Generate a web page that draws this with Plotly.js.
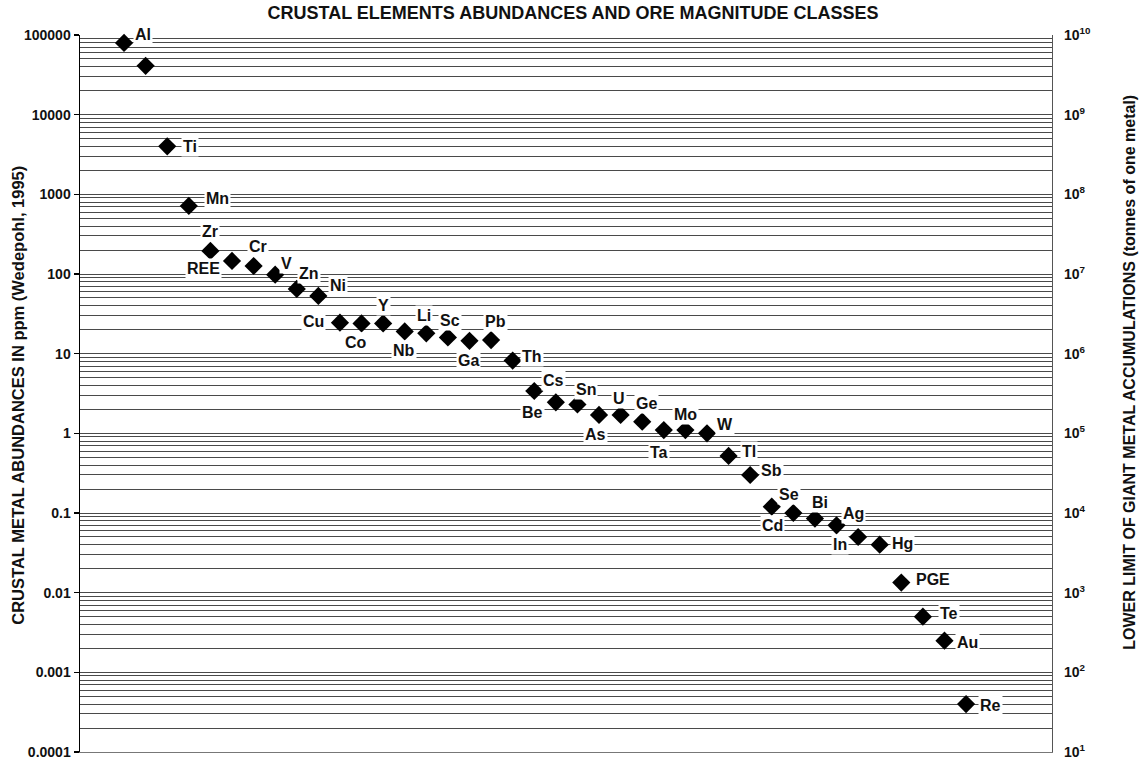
<!DOCTYPE html>
<html>
<head>
<meta charset="utf-8">
<script src="https://cdn.plot.ly/plotly-3.0.1.min.js"></script>
<style>html,body{margin:0;padding:0;background:#fff;}#chart{width:1146px;height:760px;}</style>
</head>
<body>
<div id="chart"></div>
<script>
// ---- data ----
const elements = ["Al","Fe","Ti","Mn","Zr","REE","Cr","V","Zn","Ni","Cu","Co","Y","Nb","Li","Sc","Ga","Pb","Th","Cs","Be","Sn","As","U","Ge","Ta","Mo","W","Tl","Sb","Se","Cd","Bi","Ag","In","Hg","PGE","Te","Au","Re"];
const abundancePpm = [79600,41000,4010,716,195,146,126,98,65,53,24.5,24,24,19,18,16,14.5,14.8,8.2,3.4,2.45,2.3,1.7,1.7,1.4,1.1,1.1,1.0,0.52,0.3,0.12,0.1,0.085,0.07,0.05,0.04,0.0134,0.005,0.0025,0.0004];
const pointLabels = ["Al","","Ti","Mn","Zr","REE","Cr","V","Zn","Ni","Cu","Co","Y","Nb","Li","Sc","Ga","Pb","Th","Cs","Be","Sn","As","U","Ge","Ta","Mo","W","Tl","Sb","Se","Cd","Bi","Ag","In","Hg","PGE","Te","Au","Re"];
const leftTickVals = [0.0001,0.001,0.01,0.1,1,10,100,1000,10000,100000];
const leftTickText = ["0.0001","0.001","0.01","0.1","1","10","100","1000","10000","100000"];
const rightTickVals = [1e1,1e2,1e3,1e4,1e5,1e6,1e7,1e8,1e9,1e10];
const rightTickText = ["10<sup>1</sup>","10<sup>2</sup>","10<sup>3</sup>","10<sup>4</sup>","10<sup>5</sup>","10<sup>6</sup>","10<sup>7</sup>","10<sup>8</sup>","10<sup>9</sup>","10<sup>10</sup>"];

// ---- label placement (pixel offsets from each marker) ----
const labelDx = [19,0,23,29,0,-29,4,11,12,20,-26,-6,0,-1,-2,2,-1,4,19,19,-23,9,-4,-2,4,-5,0,18,20,21,17,-21,5,17,-18,23,32,26,23,24];
const labelDy = [-8,0,0,-7,-19,8,-20,-11,-15,-10,-1,19,-18,19,-18,-17,20,-19,-4,-10,10,-15,20,-16,-18,22,-16,-9,-4,-4,-12,12,-16,-12,8,-1,-3,-3,2,1];

const FONT = "Liberation Sans, Arial, Helvetica, sans-serif";

const annotations = [];
elements.forEach((el, i) => {
  if (!pointLabels[i]) return;
  annotations.push({
    x: el, y: Math.log10(abundancePpm[i]), xref: 'x', yref: 'y',
    text: pointLabels[i], showarrow: false,
    xshift: labelDx[i], yshift: -labelDy[i],
    font: {family: FONT, size: 16, color: '#111', weight: 'bold'},
    bgcolor: '#ffffff', borderpad: 1
  });
});
annotations.push({
  xref: 'paper', yref: 'paper', x: -0.064, y: 0.498, xanchor: 'center', yanchor: 'middle',
  text: 'CRUSTAL METAL ABUNDANCES IN ppm (Wedepohl, 1995)', showarrow: false, textangle: -90,
  font: {family: FONT, size: 16.5, color: '#111', weight: 'bold'}
});
annotations.push({
  xref: 'paper', yref: 'paper', x: 1.08, y: 0.53, xanchor: 'center', yanchor: 'middle',
  text: 'LOWER LIMIT OF GIANT METAL ACCUMULATIONS (tonnes of one metal)', showarrow: false, textangle: -90,
  font: {family: FONT, size: 16, color: '#111', weight: 'bold'}
});

const trace = {
  type: 'scatter', mode: 'markers', x: elements, y: abundancePpm,
  marker: {symbol: 'diamond', size: 14, color: '#000'},
  hoverinfo: 'x+y', cliponaxis: false
};

const layout = {
  width: 1146, height: 760,
  margin: {l: 80, r: 94, t: 35, b: 8},
  paper_bgcolor: '#fff', plot_bgcolor: '#fff',
  showlegend: false,
  title: {text: 'CRUSTAL ELEMENTS ABUNDANCES AND ORE MAGNITUDE CLASSES',
          x: 0.5, xref: 'container', y: 0.983, yref: 'container', yanchor: 'middle',
          font: {family: FONT, size: 18, color: '#111', weight: 'bold'}},
  xaxis: {type: 'category', range: [-2.04, 42.98], showticklabels: false, ticks: '',
          showgrid: false, zeroline: false, showline: true, linecolor: '#777', linewidth: 1},
  yaxis: {type: 'log', range: [-4, 5], tickvals: leftTickVals, ticktext: leftTickText,
          ticks: 'outside', ticklen: 5, tickcolor: '#000', tickwidth: 1.5,
          showline: true, linecolor: '#000', linewidth: 1.5,
          showgrid: true, gridcolor: '#4a4a4a', gridwidth: 1,
          minor: {dtick: 'D1', showgrid: true, gridcolor: '#4a4a4a', gridwidth: 1, ticks: ''},
          tickfont: {family: FONT, size: 14, color: '#111', weight: 'bold'}, zeroline: false},
  yaxis2: {type: 'log', range: [1, 10], overlaying: 'y', side: 'right',
           tickvals: rightTickVals, ticktext: rightTickText, ticks: '',
           showline: true, linecolor: '#555', linewidth: 1.2, showgrid: false, zeroline: false,
           ticklabelstandoff: 8,
           tickfont: {family: FONT, size: 14, color: '#111', weight: 'bold'}},
  annotations: annotations
};

Plotly.newPlot('chart', [trace, {type:'scatter', x: [], y: [], yaxis: 'y2', showlegend: false}], layout, {displayModeBar: false, staticPlot: true});
</script>
</body>
</html>
